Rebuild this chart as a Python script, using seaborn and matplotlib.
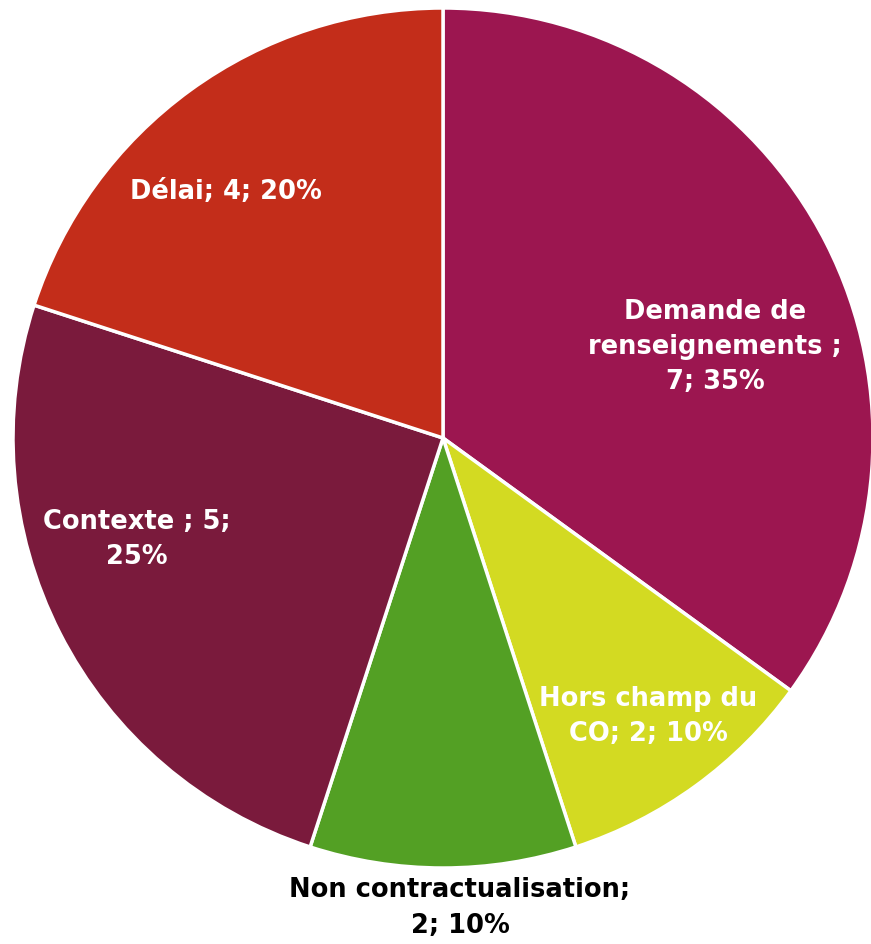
import matplotlib
matplotlib.use("Agg")
import matplotlib.pyplot as plt
import seaborn as sns

labels = ["Demande de\nrenseignements ;\n7; 35%", "Hors champ du\nCO; 2; 10%",
          "Non contractualisation;\n2; 10%", "Contexte ; 5;\n25%", "Délai; 4; 20%"]
values = [7, 2, 2, 5, 4]
colors = ["#9C1650", "#D3DA22", "#53A024", "#7A1A3C", "#C32D1A"]
text_colors = ["white", "white", "black", "white", "white"]

sns.set_theme(style="white")
plt.rcParams['font.family'] = ['DejaVu Sans']

W, H = 871, 944
fig = plt.figure(figsize=(W / 100, H / 100), dpi=100)
cx, cy, r = 443, 438, 430
ax = fig.add_axes([(cx - r) / W, (H - cy - r) / H, 2 * r / W, 2 * r / H])
ax.pie(values, colors=colors, startangle=90, counterclock=False, radius=1,
       wedgeprops=dict(edgecolor="white", linewidth=2.5))
ax.set_xlim(-1, 1)
ax.set_ylim(-1, 1)
ax.set_aspect("equal")
ax.axis("off")

# label positions in pixel coords (center of text block)
pos_px = [(715, 347), (648, 716), (460, 908), (137, 539), (226, 192)]
for lab, (px, py), tc in zip(labels, pos_px, text_colors):
    ax.text((px - cx) / r, (cy - py) / r, lab, ha="center", va="center",
            color=tc, fontsize=18.5, fontweight="bold", linespacing=1.45,
            clip_on=False)

fig.savefig("out.png", dpi=100)
